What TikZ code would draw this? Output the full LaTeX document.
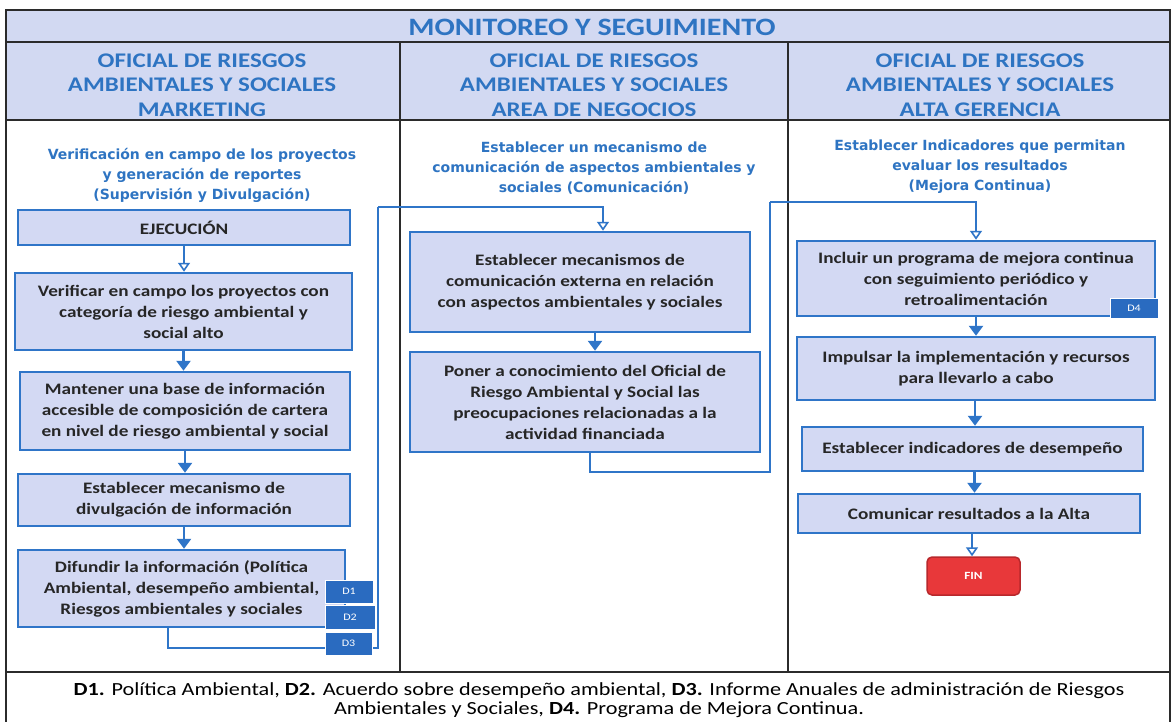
\documentclass[tikz,border=0pt]{standalone}
\usepackage{fontspec}
\setmainfont{Carlito}[FakeStretch=1.2]
\newfontfamily\subfont{DejaVu Sans}
\usetikzlibrary{arrows.meta}
\definecolor{bblue}{HTML}{2F75C8}
\definecolor{bfill}{HTML}{D3D9F3}
\definecolor{hfill}{HTML}{D2D9F2}
\definecolor{tblue}{HTML}{2E74C2}
\definecolor{tdark}{HTML}{262626}
\definecolor{tabblue}{HTML}{2A6BC0}
\definecolor{finred}{HTML}{E8383A}
\definecolor{finedge}{HTML}{B8282C}
\definecolor{framec}{HTML}{2B2B2B}
\begin{document}
\begin{tikzpicture}[x=1pt,y=-1pt,
  box/.style={draw=bblue, line width=2.5pt, fill=bfill, align=center, text=tdark,
    font=\fontsize{16}{21}\selectfont\bfseries, inner sep=0pt},
  hdr/.style={align=center, text=tblue, font=\fontsize{20.8}{24.5}\selectfont\bfseries},
  sub/.style={align=center, text=tblue, font=\subfont\fontsize{14}{20}\selectfont\bfseries},
  tab/.style={fill=tabblue, draw=white, line width=0.8pt, text=white, inner sep=0pt,
    font=\fontsize{10}{12}\selectfont},
  arr/.style={draw=bblue, line width=2.5pt, -{Triangle[length=10pt,width=14pt]}},
  oarr/.style={draw=bblue, line width=2.5pt, -{Triangle[open,length=9pt,width=12pt,line width=1.6pt,fill=white]}},
  conn/.style={draw=bblue, line width=2.5pt},
  frm/.style={draw=framec, line width=2.5pt}
]
\useasboundingbox (0,0) rectangle (1174,721);
\fill[white] (0,0) rectangle (1174,721);
% bands
\fill[hfill] (6,10) rectangle (1170,120);
% frame
\draw[frm] (6,10) rectangle (1170,745);
\draw[frm] (6,42) -- (1170,42);
\draw[frm] (6,120) -- (1170,120);
\draw[frm] (6,672) -- (1170,672);
\draw[frm] (400,42) -- (400,672);
\draw[frm] (788,42) -- (788,672);

% title and headers
\node[text=tblue, font=\fontsize{25}{28}\selectfont\bfseries] (title) at (592,27) {MONITOREO Y SEGUIMIENTO};
\node[hdr] (h1) at (202,85) {OFICIAL DE RIESGOS\\AMBIENTALES Y SOCIALES\\MARKETING};
\node[hdr] (h2) at (594,85) {OFICIAL DE RIESGOS\\AMBIENTALES Y SOCIALES\\AREA DE NEGOCIOS};
\node[hdr] (h3) at (980,85) {OFICIAL DE RIESGOS\\AMBIENTALES Y SOCIALES\\ALTA GERENCIA};

% subtitles
\node[sub] (s1) at (202,175) {Verificación en campo de los proyectos\\y generación de reportes\\(Supervisión y Divulgación)};
\node[sub] (s2) at (594,168) {Establecer un mecanismo de\\comunicación de aspectos ambientales y\\sociales (Comunicación)};
\node[sub] (s3) at (980,167) {Establecer Indicadores que permitan\\evaluar los resultados\\(Mejora Continua)};

% column 1
\node[box, minimum width=332pt, minimum height=35pt] (b1) at (184,227.5) {EJECUCIÓN};
\node[box, minimum width=337pt, minimum height=77pt] (b2) at (183.5,311.5) {Verificar en campo los proyectos con\\categoría de riesgo ambiental y\\social alto};
\node[box, minimum width=330pt, minimum height=78pt] (b3) at (185,411) {Mantener una base de información\\accesible de composición de cartera\\en nivel de riesgo ambiental y social};
\node[box, minimum width=332pt, minimum height=52pt] (b4) at (184,500) {Establecer mecanismo de\\divulgación de información};
\node[box, minimum width=327pt, minimum height=77pt] (b5) at (181.5,588.5) {Difundir la información (Política\\Ambiental, desempeño ambiental,\\Riesgos ambientales y sociales};

% column 2
\node[box, minimum width=340pt, minimum height=100pt] (A) at (580,282) {Establecer mecanismos de\\comunicación externa en relación\\con aspectos ambientales y sociales};
\node[box, minimum width=350pt, minimum height=100pt] (B) at (585,402) {Poner a conocimiento del Oficial de\\Riesgo Ambiental y Social las\\preocupaciones relacionadas a la\\actividad financiada};

% column 3
\node[box, minimum width=358pt, minimum height=75pt] (C) at (976,278.5) {Incluir un programa de mejora continua\\con seguimiento periódico y\\retroalimentación};
\node[box, minimum width=358pt, minimum height=63pt] (D) at (976,368.5) {Impulsar la implementación y recursos\\para llevarlo a cabo};
\node[box, minimum width=341pt, minimum height=44pt] (E) at (972.5,449) {Establecer indicadores de desempeño};
\node[box, minimum width=342pt, minimum height=39pt] (F) at (969,513.5) {Comunicar resultados a la Alta};
\node[fill=finred, draw=finedge, line width=1.5pt, rounded corners=5pt, minimum width=93pt, minimum height=38pt,
  text=white, font=\fontsize{11}{13}\selectfont\bfseries] (fin) at (973.5,576) {FIN};

% coordinates for connectors
\coordinate (k1) at (378,648);
\coordinate (k2) at (378,207);
\coordinate (k3) at (770,472);
\coordinate (k4) at (770,202);

% arrows column 1
\draw[oarr] (b1.south) -- (b1.south |- b2.north);
\draw[arr] (b2.south) -- (b2.south |- b3.north);
\draw[arr] (b3.south) -- (b3.south |- b4.north);
\draw[arr] (b4.south) -- (b4.south |- b5.north);

% connectors
\draw[conn] ([xshift=-13.5pt]b5.south) |- (k1) -- (k2);
\draw[oarr] (k2) -| ([xshift=23pt]A.north);
\draw[arr] ([xshift=15pt]A.south) -- ([xshift=15pt]A.south |- B.north);
\draw[conn] ([xshift=5pt]B.south) |- (k3) -- (k4);
\draw[oarr] (k4) -| (C.north);

% arrows column 3
\draw[arr] (C.south) -- (C.south |- D.north);
\draw[arr] ([xshift=-1pt]D.south) -- ([xshift=-1pt]D.south |- E.north);
\draw[arr] ([xshift=2pt]E.south) -- ([xshift=2pt]E.south |- F.north);
\draw[oarr] ([xshift=3pt]F.south) -- ([xshift=3pt]F.south |- fin.north);

% tabs
\node[tab, minimum width=48pt, minimum height=23pt] (d1) at (349,591.5) {D1};
\node[tab, minimum width=50pt, minimum height=24pt] (d2) at (350,617) {D2};
\node[tab, minimum width=47pt, minimum height=23pt] (d3) at (348.5,643.5) {D3};
\node[tab, minimum width=48pt, minimum height=20pt] (d4) at (1134,308) {D4};

% footer
\node[align=center, text=black, font=\fontsize{18.5}{19}\selectfont] (foot) at (599,700.5)
  {\textbf{D1.} Política Ambiental, \textbf{D2.} Acuerdo sobre desempeño ambiental, \textbf{D3.} Informe Anuales de administración de Riesgos\\Ambientales y Sociales, \textbf{D4.} Programa de Mejora Continua.};
\end{tikzpicture}
\end{document}
